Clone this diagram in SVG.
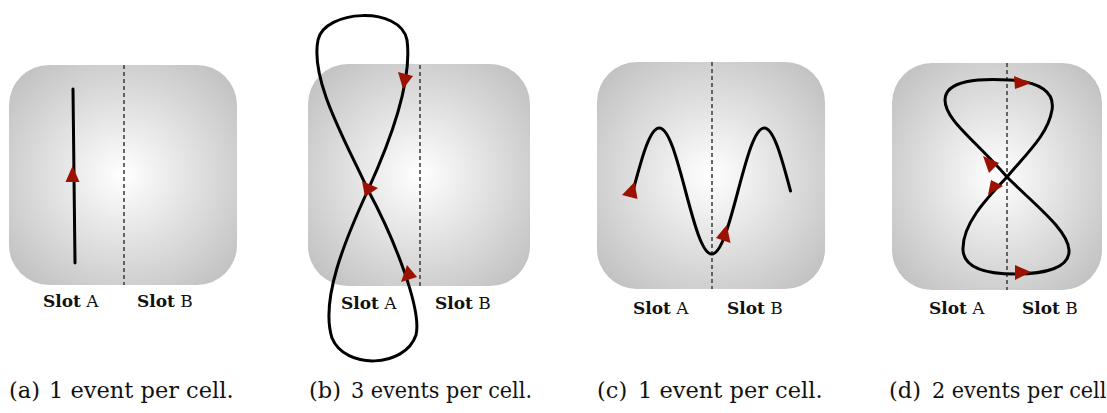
<svg xmlns="http://www.w3.org/2000/svg" width="1107" height="413" viewBox="0 0 1107 413">
<defs>
<radialGradient id="cellGrad" cx="0.5" cy="0.5" r="0.7">
<stop offset="0" stop-color="#ffffff"/>
<stop offset="1" stop-color="#bcbcbc"/>
</radialGradient>
</defs>
<style>
.cell{fill:url(#cellGrad);}
.div{stroke:#444;stroke-width:1.6;stroke-dasharray:4 3;fill:none;}
.traj{stroke:#000;stroke-width:3;fill:none;stroke-linecap:round;stroke-linejoin:round;}
.arr{fill:#9b1200;}
.lbl{font-family:"DejaVu Serif","Liberation Serif",serif;font-size:17px;fill:#111;}
.lbl .b{font-weight:bold;}
.cap{font-family:"DejaVu Serif","Liberation Serif",serif;font-size:22.5px;fill:#111;}
</style>
<g id="panel-a">
<rect class="cell" x="9" y="65" width="228" height="220" rx="40"/>
<line class="div" x1="124" y1="65" x2="124" y2="285"/>
<text class="lbl" x="43" y="307"><tspan class="b">Slot</tspan> A</text>
<text class="lbl" x="137" y="307"><tspan class="b">Slot</tspan> B</text>
<text class="cap" x="9" y="398">(a)</text>
<text class="cap" x="49" y="398">1 event per cell.</text>
</g>
<g id="panel-b">
<rect class="cell" x="308" y="64" width="222" height="222" rx="40"/>
<line class="div" x1="420" y1="65" x2="420" y2="286"/>
<text class="lbl" x="341" y="309"><tspan class="b">Slot</tspan> A</text>
<text class="lbl" x="435" y="309"><tspan class="b">Slot</tspan> B</text>
<text class="cap" x="309" y="398">(b)</text>
<text class="cap" x="351" y="398" textLength="181" lengthAdjust="spacingAndGlyphs">3 events per cell.</text>
</g>
<g id="panel-c">
<rect class="cell" x="597" y="62" width="228" height="227" rx="40"/>
<line class="div" x1="712" y1="62" x2="712" y2="289"/>
<text class="lbl" x="633" y="314"><tspan class="b">Slot</tspan> A</text>
<text class="lbl" x="727" y="314"><tspan class="b">Slot</tspan> B</text>
<text class="cap" x="597" y="398">(c)</text>
<text class="cap" x="638" y="398">1 event per cell.</text>
</g>
<g id="panel-d">
<rect class="cell" x="892" y="63" width="210" height="227" rx="40"/>
<line class="div" x1="1007" y1="63" x2="1007" y2="290"/>
<text class="lbl" x="929" y="314"><tspan class="b">Slot</tspan> A</text>
<text class="lbl" x="1022" y="314"><tspan class="b">Slot</tspan> B</text>
<text class="cap" x="889" y="398">(d)</text>
<text class="cap" x="932" y="398" textLength="181" lengthAdjust="spacingAndGlyphs">2 events per cell.</text>
</g>
<g id="trajectories">
<path class="traj" d="M73 89 L75 263"/>
<polygon class="arr" points="72.5,166 65.5,182 79.5,182"/>
<path class="traj" d="M368 190 C345 140,310 80,318 40 C324 10,400 5,407 40 C411 70,400 120,368 190 C345 240,320 300,332 338 C345 370,405 368,416 335 C422 310,395 240,368 190"/>
<polygon class="arr" points="403,89 398,72 413,76"/>
<polygon class="arr" points="378,188 362,181 365,197"/>
<polygon class="arr" points="407,265 401,282 417,277"/>
<path class="traj" d="M633 191 C641.8 157.9,649.8 128,659.25 128 C668.7 128,676.7 157.9,685.5 191 C694.3 224.1,702.3 254,711.75 254 C721.2 254,729.2 224.1,738 191 C746.8 157.9,754.8 128,764.25 128 C773.7 128,781.7 157.9,790.5 191"/>
<polygon class="arr" points="622,195 634.5,182 637.5,199"/>
<polygon class="arr" points="726.7,225 716,238 730.5,243"/>
<path class="traj" d="M1007 177 C975 140,945 120,945 100 C945 80,980 78,1010 80 C1040 82,1055 92,1052 110 C1048 135,1025 155,1007 177 C985 200,962 225,963 250 C964 270,990 274,1015 274 C1045 274,1070 268,1069 250 C1068 230,1035 205,1007 177"/>
<polygon class="arr" points="1031,83 1014,76 1015,89"/>
<polygon class="arr" points="983,156 989,173 999,163"/>
<polygon class="arr" points="988,195 991,180 1003,186"/>
<polygon class="arr" points="1031,272 1015,265 1015,280"/>
</g>
</svg>
